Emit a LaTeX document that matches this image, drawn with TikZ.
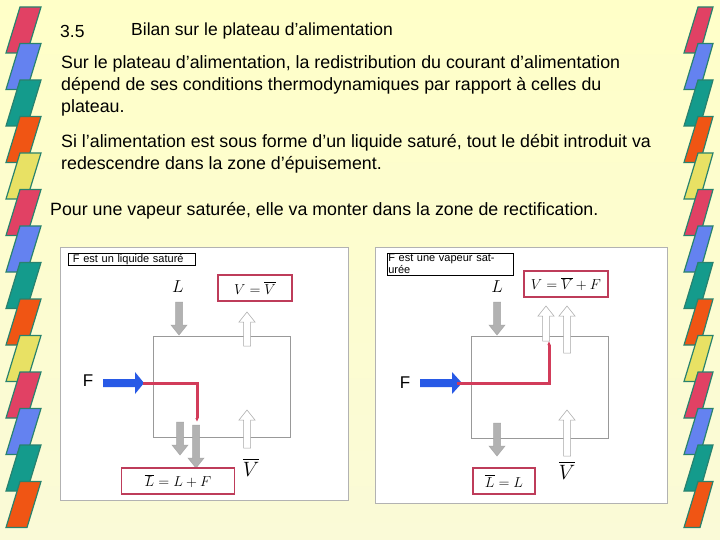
\documentclass[tikz,border=0pt]{standalone}
\usepackage{fontspec}
\setmainfont{Liberation Sans}
\usepackage{amsmath}
\usetikzlibrary{arrows.meta}
\begin{document}
\begin{tikzpicture}[x=1pt,y=-1pt,
  txt/.style={anchor=west,font=\fontsize{17.8}{20}\selectfont,inner sep=0},
  mth/.style={font=\fontsize{16}{18}\selectfont},
  redbox/.style={draw={rgb,255:red,190;green,60;blue,90},line width=1.6pt,fill=white,font=\fontsize{15}{17}\selectfont},
  plate/.style={draw=gray!80,line width=0.6pt},
  panel/.style={draw=gray!60,fill=white},
  tag/.style={draw=black,line width=0.5pt,fill=white,font=\fontsize{11}{12}\selectfont,inner sep=1pt,anchor=north west,minimum height=12pt,text width=#1,align=left},
  redline/.style={draw={rgb,255:red,210;green,60;blue,90},line width=3pt}
]
\definecolor{bgA}{RGB}{255,255,200}
\definecolor{bgB}{RGB}{250,250,215}
\definecolor{pRed}{RGB}{225,65,100}
\definecolor{pBlue}{RGB}{100,130,240}
\definecolor{pTeal}{RGB}{20,155,140}
\definecolor{pOrange}{RGB}{240,85,20}
\definecolor{pYellow}{RGB}{232,225,100}
\definecolor{pEdge}{RGB}{40,130,110}
\definecolor{fblue}{RGB}{40,90,230}
\useasboundingbox (0,0) rectangle (720,540);
\shade[top color=bgA,bottom color=bgB] (0,0) rectangle (720,540);
% side strips
\foreach \i/\c in {0/pRed,1/pBlue,2/pTeal,3/pOrange,4/pYellow,5/pRed,6/pBlue,7/pTeal,8/pOrange,9/pYellow,10/pRed,11/pBlue,12/pTeal,13/pOrange}{
  \pgfmathsetmacro{\yy}{7+36.5*\i}
  \filldraw[fill=\c,draw=pEdge,line width=1.2pt] (20,\yy) -- (41,\yy) -- (27,\yy+46) -- (6,\yy+46) -- cycle;
  \filldraw[fill=\c,draw=pEdge,line width=1.2pt] (698,\yy) -- (713,\yy) -- (700,\yy+46) -- (684,\yy+46) -- cycle;
}
% texts
\node[txt,font=\fontsize{17.5}{20}\selectfont] (num) at (60,31) {3.5};
\node[txt,font=\fontsize{17.5}{20}\selectfont] (ttl) at (131,31) {Bilan sur le plateau d'alimentation};
\node[txt] (p1a) at (61,64) {Sur le plateau d'alimentation, la redistribution du courant d’alimentation};
\node[txt] (p1b) at (61,86) {dépend de ses conditions thermodynamiques par rapport à celles du};
\node[txt] (p1c) at (61,108) {plateau.};
\node[txt] (p2a) at (61,143) {Si l'alimentation est sous forme d'un liquide saturé, tout le débit introduit va};
\node[txt] (p2b) at (61,165) {redescendre dans la zone d'épuisement.};
\node[txt] (p3) at (50,211) {Pour une vapeur saturée, elle va monter dans la zone de rectification.};
% arrow macro: x, tail y, tip y, fill
\newcommand\blockarr[4]{%
  \pgfmathsetmacro{\dd}{(#3>#2)?1:-1}%
  \filldraw[fill=#4,draw=gray!70,line width=0.5pt] (#1-3.5,#2) -- (#1+3.5,#2) -- (#1+3.5,#3-10*\dd) -- (#1+8,#3-10*\dd) -- (#1,#3) -- (#1-8,#3-10*\dd) -- (#1-3.5,#3-10*\dd) -- cycle;}
% ===== left panel
\draw[panel] (60,247) rectangle (348,500);
\node[tag=125pt] (tagL) at (68,253) {\ F est un liquide saturé};
\draw[plate] (153,336) rectangle (290,437);
\node[mth] (LL) at (178,287) {$L$};
\blockarr{179}{302}{335}{gray!60}
\node[redbox,minimum width=74pt,minimum height=26pt] (VL) at (255,288) {$V=\overline{V}$};
\blockarr{247}{346}{312}{white}
\node[font=\fontsize{17}{18}\selectfont] (FL) at (88,381) {F};
\fill[fblue] (103,379) -- (135,379) -- (135,372) -- (144,383) -- (135,394) -- (135,387) -- (103,387) -- cycle;
\coordinate (fl1) at (143,383);
\coordinate (fl2) at (197,383);
\coordinate (fl3) at (197,422);
\draw[redline,-{Latex[length=4pt,width=3.5pt]}] (fl1) -- (fl2) -- (fl3);
\blockarr{180}{422}{455}{gray!60}
\blockarr{196}{425}{468}{gray!60}
\blockarr{247}{448}{410}{white}
\node[font=\fontsize{20}{22}\selectfont] (VbL) at (251,467) {$\overline{V}$};
\node[redbox,minimum width=113pt,minimum height=26pt] (LbL) at (178,481) {$\overline{L}=L+F$};
% ===== right panel
\draw[panel] (375,247) rectangle (667,503);
\node[tag=124pt] (tagR) at (387,253) {F est une vapeur saturée};
\draw[plate] (471,336) rectangle (608,438);
\node[mth] (LR) at (497,287) {$L$};
\blockarr{497}{302}{335}{gray!60}
\node[redbox,minimum width=84pt,minimum height=26pt] (VR) at (566,284) {$V=\overline{V}+F$};
\blockarr{546}{341}{306}{white}
\blockarr{567}{353}{306}{white}
\node[font=\fontsize{17}{18}\selectfont] (FR) at (405,383) {F};
\fill[fblue] (420,379) -- (452,379) -- (452,372) -- (462,383) -- (452,394) -- (452,387) -- (420,387) -- cycle;
\coordinate (fr1) at (457,383);
\coordinate (fr2) at (549,383);
\coordinate (fr3) at (549,341);
\draw[redline,-{Latex[length=4pt,width=3.5pt]}] (fr1) -- (fr2) -- (fr3);
\blockarr{497}{423}{456}{gray!60}
\blockarr{567}{456}{410}{white}
\node[font=\fontsize{20}{22}\selectfont] (VbR) at (567,470) {$\overline{V}$};
\node[redbox,minimum width=62pt,minimum height=26pt] (LbR) at (504,481) {$\overline{L}=L$};
\end{tikzpicture}
\end{document}
